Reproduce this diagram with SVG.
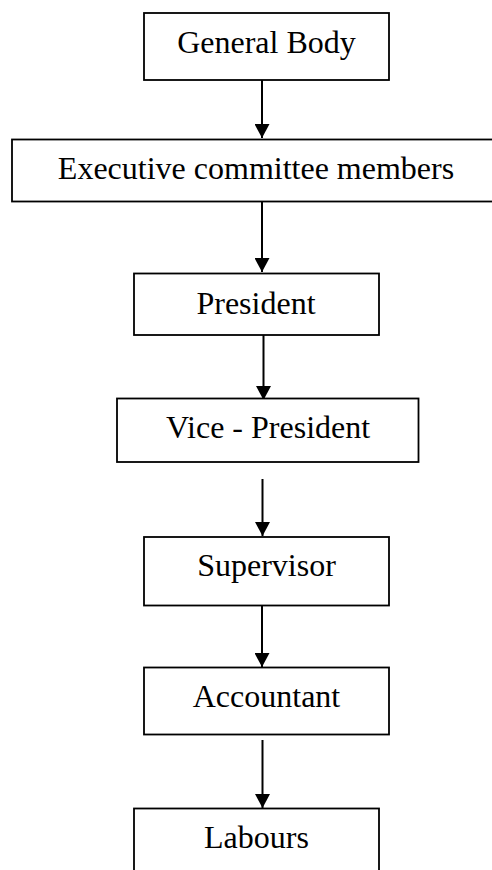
<svg xmlns="http://www.w3.org/2000/svg" width="492" height="870" viewBox="0 0 492 870">
<style>
.box{fill:#fff;stroke:#000;stroke-width:1.8}
.lbl{font-family:"Liberation Serif","Times New Roman",serif;font-size:32px;fill:#000;text-anchor:middle}
.edge{stroke:#000;stroke-width:2;fill:none}
</style>
<defs>
<marker id="ah" markerUnits="userSpaceOnUse" markerWidth="15" markerHeight="15" refX="14" refY="7.5" orient="auto" viewBox="0 0 15 15">
<path d="M0,0 L14,7.5 L0,15 Z" fill="#000"/>
</marker>
</defs>
<rect width="492" height="870" fill="#fff"/>
<g id="connectors">
<line class="edge" x1="262" y1="80" x2="262" y2="138" marker-end="url(#ah)"/>
<line class="edge" x1="262" y1="201" x2="262" y2="272" marker-end="url(#ah)"/>
<line class="edge" x1="263.5" y1="335" x2="263.5" y2="400" marker-end="url(#ah)"/>
<line class="edge" x1="262.5" y1="479" x2="262.5" y2="536" marker-end="url(#ah)"/>
<line class="edge" x1="262" y1="605" x2="262" y2="667" marker-end="url(#ah)"/>
<line class="edge" x1="262.5" y1="740" x2="262.5" y2="808" marker-end="url(#ah)"/>
</g>
<g id="general-body">
<rect class="box" x="144" y="13" width="245" height="67"/>
<text class="lbl" x="266.5" y="53">General Body</text>
</g>
<g id="executive-committee">
<rect class="box" x="12" y="139.5" width="482" height="62"/>
<text class="lbl" x="256" y="179">Executive committee members</text>
</g>
<g id="president">
<rect class="box" x="134" y="273.5" width="245" height="61.5"/>
<text class="lbl" x="256" y="314">President</text>
</g>
<g id="vice-president">
<rect class="box" x="117" y="398.5" width="301.5" height="63.5"/>
<text class="lbl" x="268" y="437.5">Vice - President</text>
</g>
<g id="supervisor">
<rect class="box" x="144" y="537" width="245" height="68.5"/>
<text class="lbl" x="266.5" y="576">Supervisor</text>
</g>
<g id="accountant">
<rect class="box" x="144" y="667.5" width="245" height="67"/>
<text class="lbl" x="266.5" y="707">Accountant</text>
</g>
<g id="labours">
<rect class="box" x="134" y="808.5" width="245" height="70"/>
<text class="lbl" x="256.5" y="848">Labours</text>
</g>
</svg>
